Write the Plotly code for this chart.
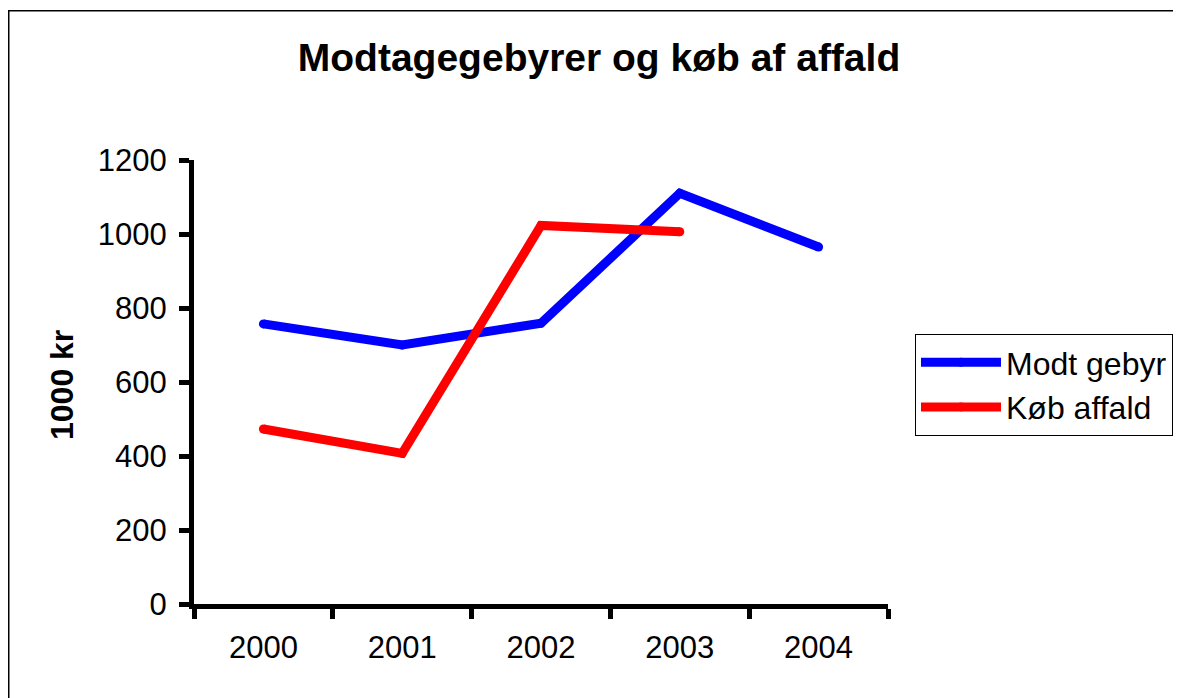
import plotly.graph_objects as go

years = ["2000", "2001", "2002", "2003", "2004"]
modt_gebyr = [757, 700, 759, 1110, 965]
koeb_affald = [473, 407, 1023, 1006, None]
y_ticks = [0, 200, 400, 600, 800, 1000, 1200]

# page offset (the browser body has an 8px margin)
OFF = 8
W, H = 1181 - OFF, 698 - OFF
# plot area in reference page pixels
L, R, T, B = 194, 888, 160, 604
pw, ph = R - L, B - T


def px_x(x):
    return (x - L) / pw


def px_y(y):
    return (B - y) / ph


fig = go.Figure()
fig.add_trace(go.Scatter(x=years, y=modt_gebyr, mode="lines+markers", name="Modt gebyr",
                         line=dict(color="#0000FF", width=9),
                         marker=dict(color="#0000FF", size=9, line=dict(width=0)),
                         connectgaps=False))
fig.add_trace(go.Scatter(x=years, y=koeb_affald, mode="lines+markers", name="Køb affald",
                         line=dict(color="#FF0000", width=9),
                         marker=dict(color="#FF0000", size=9, line=dict(width=0)),
                         connectgaps=False))

font = "Liberation Sans, Arial, sans-serif"
fig.update_layout(
    width=W, height=H,
    margin=dict(l=L - OFF, r=W - (R - OFF), t=T - OFF, b=H - (B - OFF), autoexpand=False),
    paper_bgcolor="white", plot_bgcolor="white",
    font=dict(family=font, size=31, color="black"),
    title=dict(text="<b>Modtagegebyrer og køb af affald</b>", x=(599 - OFF) / W, xanchor="center",
               y=1 - (57 - OFF) / H, yanchor="middle", yref="container",
               font=dict(size=39, family=font, color="black")),
    xaxis=dict(type="category", range=[-0.5, 4.5], tickson="boundaries",
               showline=True, linecolor="black", linewidth=5,
               ticks="outside", ticklen=10, tickwidth=5, tickcolor="black",
               showgrid=False, zeroline=False, ticklabelstandoff=12,
               tickfont=dict(size=31)),
    yaxis=dict(range=[0, 1200], tickvals=y_ticks,
               showline=True, linecolor="black", linewidth=5,
               ticks="outside", ticklen=10, tickwidth=5, tickcolor="black",
               showgrid=False, zeroline=False, ticklabelstandoff=6,
               tickfont=dict(size=31)),
    legend=dict(x=px_x(915), y=px_y(334), xanchor="left", yanchor="top",
                bordercolor="black", borderwidth=1, bgcolor="white",
                font=dict(size=32), itemwidth=80, tracegroupgap=0),
    showlegend=True,
)

fig.add_annotation(text="<b>1000 kr</b>", textangle=-90, showarrow=False,
                   xref="paper", yref="paper", x=px_x(62), y=px_y(385),
                   xanchor="center", yanchor="middle", font=dict(size=32))

# outer chart frame
fig.add_shape(type="rect", xref="paper", yref="paper",
              x0=px_x(8.75), x1=px_x(1200),
              y0=px_y(720), y1=px_y(10.75),
              line=dict(color="black", width=1.5), layer="below")

fig.write_html("out.html")
